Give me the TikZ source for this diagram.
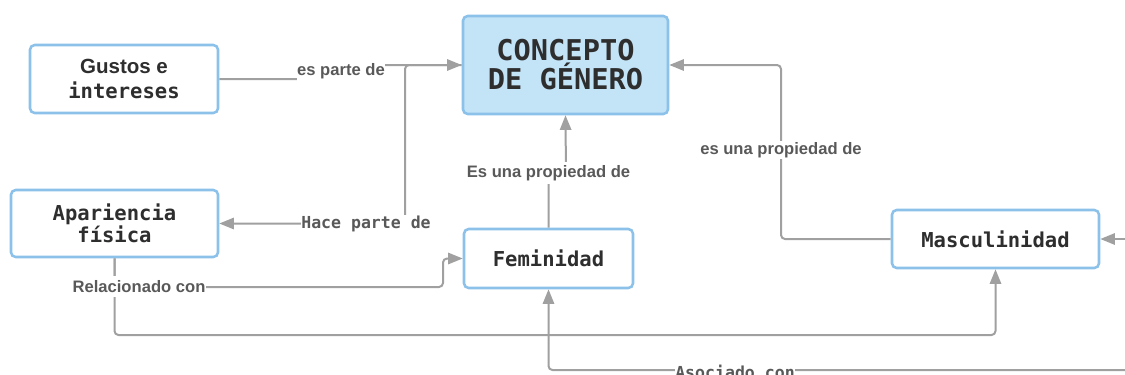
\documentclass[tikz,border=0pt]{standalone}
\usepackage{fontspec}
\setmainfont{Liberation Sans}
\newfontfamily\monofnt{DejaVu Sans Mono}
\usetikzlibrary{arrows.meta}
\definecolor{edgec}{HTML}{A0A0A0}
\definecolor{boxc}{HTML}{8CC1EA}
\definecolor{fillc}{HTML}{C3E3F7}
\definecolor{txtc}{HTML}{2E2E2E}
\definecolor{lblc}{HTML}{595959}
\tikzset{
  box/.style={draw=boxc, line width=1.9pt, rounded corners=3.5pt, fill=white, text=txtc, align=center, inner sep=0pt},
  nodefont/.style={font=\monofnt\bfseries\fontsize{15.4}{16.5}\selectfont},
  conn/.style={draw=edgec, line width=1.5pt, rounded corners=3pt},
  arr/.style={conn, -{Triangle[length=11pt,width=8.5pt]}},
  lbl/.style={fill=white, text=lblc, inner xsep=0.5pt, inner ysep=0pt, font=\bfseries\fontsize{12.45}{14}\selectfont},
  mlbl/.style={lbl, font=\monofnt\bfseries\fontsize{12.4}{14}\selectfont},
}
\begin{document}
\begin{tikzpicture}[x=0.75pt, y=-0.75pt]
\useasboundingbox (0,0) rectangle (1125,375);
\clip (0,0) rectangle (1125,375);

% nodes
\node[box, minimum width=141pt, minimum height=51pt,
  font=\bfseries\fontsize{15.4}{19}\selectfont] (gustos) at (124,79)
  {Gustos e\\{\monofnt intereses}};
\node[box, fill=fillc, minimum width=153.75pt, minimum height=73.5pt,
  font=\monofnt\bfseries\fontsize{21.5}{21.75}\selectfont] (concepto) at (565.5,65)
  {CONCEPTO\\DE GÉNERO};
\node[box, nodefont, minimum width=155.25pt, minimum height=50.25pt] (apariencia) at (114.5,223.5)
  {Apariencia\\física};
\node[box, nodefont, minimum width=126.75pt, minimum height=44.25pt] (feminidad) at (548.5,258.5)
  {Feminidad};
\node[box, nodefont, minimum width=155.25pt, minimum height=43.5pt] (masculinidad) at (995.5,239)
  {Masculinidad};

\coordinate (offA) at (1150,370);
\coordinate (offB) at (1150,239);

% connectors
\draw[arr] (gustos.east) -- (341,79) -- (341,65) -- (concepto.west);
\draw[arr] (concepto.west) -- (405,65) -- (405,223.5) -- (apariencia.east);
\draw[arr] (feminidad.north) -- (548.5,178) -- (566,178) -- (concepto.south);
\draw[arr] (masculinidad.west) -- (781,239) -- (781,65) -- (concepto.east);
\draw[arr] (apariencia.south) -- (114.5,287) -- (443,287) -- (443,258.5) -- (feminidad.west);
\draw[arr] (apariencia.south) -- (114.5,335) -- (995.5,335) -- (masculinidad.south);
\draw[arr] (offA) -- (548.5,370) -- (feminidad.south);
\draw[arr] (offB) -- (masculinidad.east);

% labels
\node[lbl, minimum height=13.5pt] (l1) at (341,71.5) {es parte de};
\node[mlbl, minimum height=13pt] (l2) at (366,223.5) {Hace parte de};
\node[lbl, minimum height=17pt] (l3) at (548.5,173) {Es una propiedad de};
\node[lbl, minimum height=14pt] (l4) at (781,150) {es una propiedad de};
\node[lbl, minimum height=16pt] (l5) at (139,286.5) {Relacionado con};
\node[mlbl, minimum height=10pt] (l6) at (735,372) {Asociado con};
\end{tikzpicture}
\end{document}
